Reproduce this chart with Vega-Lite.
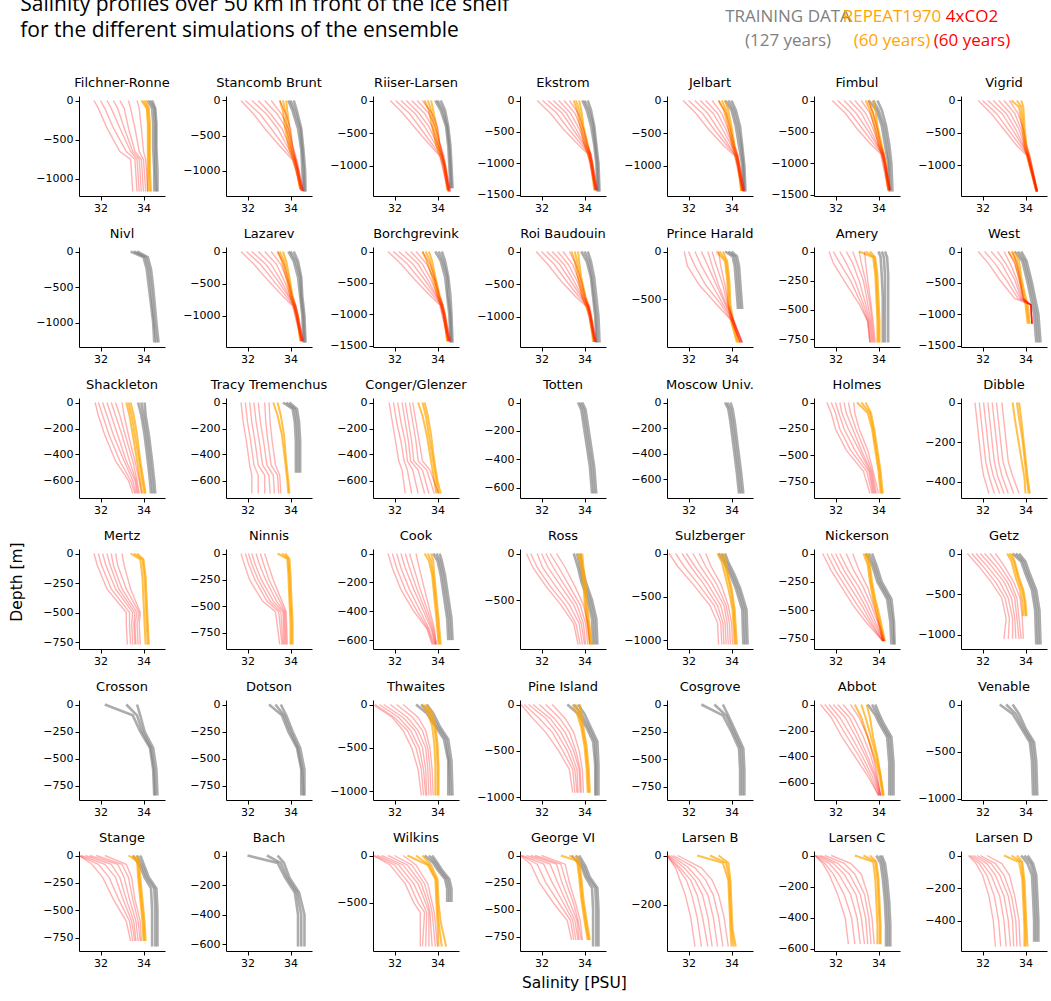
{
"$schema":"https://vega.github.io/schema/vega-lite/v6.json",
"background":"white",
"padding":{"left":10,"top":-6,"right":4,"bottom":4},
"config":{
 "view":{"stroke":null,"continuousWidth":86,"continuousHeight":100},
 "font":"DejaVu Sans",
 "numberFormat":"d",
 "axis":{"labelFont":"DejaVu Sans","labelFontSize":11,"labelColor":"#000","domainColor":"#000","tickColor":"#000","tickSize":4,"labelPadding":2,"grid":false,"domainWidth":1,"tickWidth":1},
 "title":{"font":"DejaVu Sans","fontSize":13,"fontWeight":"normal","color":"#000","anchor":"middle","offset":5},
 "range":{"category":["rgba(128,128,128,0.65)","rgba(255,165,0,0.7)","rgba(255,0,0,0.3)"]},
 "scale":{"minStrokeWidth":1.4,"maxStrokeWidth":2.6},
 "style":{"guide-label":{"lineHeight":24}},
 "line":{"strokeWidth":1.8}
},
"title":{"text":["Salinity profiles over 50 km in front of the ice shelf","for the different simulations of the ensemble"],"anchor":"start","fontSize":21,"font":"Open Sans","fontWeight":"normal","color":"#000","offset":26,"lineHeight":26,"dx":10,"dy":59},
"vconcat":[{
 "title":{"text":"Depth [m]","orient":"left","anchor":"middle","fontSize":15.5,"font":"DejaVu Sans","fontWeight":"normal","color":"#000","offset":10,"dx":-48},
 "vconcat":[{
  "title":{"text":"Salinity [PSU]","orient":"bottom","anchor":"middle","fontSize":15.5,"font":"DejaVu Sans","fontWeight":"normal","color":"#000","offset":8,"dx":33},
  "data":{"values":[
{"p":"Filchner-Ronne","g":"T","d":[0,-100,-300,-600,-900,-1160],"v":[[34.2,34.4,34.45,34.45,34.5,34.5],[34.3,34.5,34.55,34.55,34.55,34.6],[34.4,34.55,34.6,34.6,34.65,34.65]]},
{"p":"Filchner-Ronne","g":"R","d":[0,-100,-300,-600,-900,-1160],"v":[[33.9,34.15,34.2,34.2,34.2,34.2],[34.0,34.2,34.25,34.25,34.25,34.3],[34.1,34.25,34.3,34.3,34.3,34.35]]},
{"p":"Filchner-Ronne","g":"C","d":[0,-100,-350,-650,-750,-1160],"v":[[31.7,31.9,32.3,32.9,33.4,33.5],[32.0,32.2,32.6,33.2,33.6,33.7],[32.3,32.5,32.9,33.4,33.7,33.8],[32.6,32.8,33.1,33.5,33.8,33.9],[32.9,33.1,33.3,33.6,33.9,34.0],[33.3,33.4,33.6,33.8,34.0,34.1],[33.7,33.8,33.9,34.0,34.1,34.2]]},
{"p":"Stancomb Brunt","g":"T","d":[0,-150,-400,-700,-1000,-1300],"v":[[33.9,34.1,34.35,34.5,34.55,34.6],[34.0,34.2,34.45,34.55,34.62,34.65],[34.15,34.3,34.5,34.6,34.68,34.7]]},
{"p":"Stancomb Brunt","g":"R","d":[0,-150,-400,-700,-1000,-1270],"v":[[33.5,33.65,33.75,33.95,34.3,34.45],[33.65,33.75,33.85,34.05,34.3,34.45],[33.8,33.85,33.95,34.1,34.35,34.5]]},
{"p":"Stancomb Brunt","g":"C","d":[0,-200,-400,-650,-850,-1290],"v":[[31.7,32.3,32.8,33.5,34.1,34.5],[31.9,32.6,33.1,33.7,34.15,34.5],[32.2,32.9,33.4,33.85,34.2,34.55],[32.5,33.1,33.6,33.95,34.2,34.55],[32.8,33.4,33.8,34.0,34.25,34.55],[33.1,33.6,33.9,34.1,34.25,34.6],[33.5,33.8,34.0,34.1,34.3,34.6]]},
{"p":"Riiser-Larsen","g":"T","d":[0,-150,-400,-700,-1000,-1350],"v":[[33.9,34.15,34.4,34.5,34.55,34.6],[34.0,34.25,34.45,34.55,34.6,34.65],[34.15,34.35,34.5,34.6,34.65,34.7]]},
{"p":"Riiser-Larsen","g":"R","d":[0,-150,-400,-700,-1000,-1380],"v":[[33.4,33.6,33.75,33.95,34.3,34.45],[33.55,33.7,33.85,34.05,34.35,34.5],[33.7,33.8,33.95,34.1,34.35,34.5]]},
{"p":"Riiser-Larsen","g":"C","d":[0,-200,-400,-650,-850,-1400],"v":[[31.8,32.4,32.9,33.55,34.1,34.5],[32.05,32.7,33.15,33.7,34.15,34.5],[32.3,32.95,33.4,33.85,34.2,34.55],[32.55,33.15,33.6,33.95,34.2,34.55],[32.8,33.4,33.75,34.0,34.25,34.55],[33.05,33.6,33.9,34.1,34.25,34.6],[33.3,33.75,34.0,34.1,34.3,34.6]]},
{"p":"Ekstrom","g":"T","d":[0,-150,-400,-700,-1000,-1450],"v":[[33.9,34.1,34.3,34.45,34.55,34.6],[34.0,34.2,34.4,34.5,34.6,34.65],[34.15,34.3,34.45,34.55,34.65,34.7]]},
{"p":"Ekstrom","g":"R","d":[0,-150,-400,-700,-1000,-1430],"v":[[33.5,33.65,33.8,34.0,34.3,34.45],[33.6,33.75,33.9,34.1,34.35,34.5],[33.75,33.85,33.95,34.15,34.35,34.5]]},
{"p":"Ekstrom","g":"C","d":[0,-200,-450,-700,-850,-1430],"v":[[31.8,32.4,33.0,33.7,34.15,34.5],[32.05,32.7,33.25,33.85,34.2,34.5],[32.3,32.95,33.45,33.95,34.2,34.55],[32.55,33.15,33.6,34.0,34.25,34.55],[32.8,33.35,33.75,34.05,34.25,34.55],[33.05,33.55,33.85,34.1,34.3,34.6],[33.3,33.7,33.95,34.15,34.3,34.6]]},
{"p":"Jelbart","g":"T","d":[0,-150,-400,-700,-1000,-1400],"v":[[33.7,34.0,34.2,34.35,34.5,34.55],[33.85,34.1,34.3,34.45,34.55,34.6],[34.0,34.2,34.4,34.5,34.6,34.65]]},
{"p":"Jelbart","g":"R","d":[0,-150,-400,-700,-1000,-1390],"v":[[33.4,33.65,33.85,34.05,34.3,34.45],[33.55,33.75,33.95,34.1,34.35,34.45],[33.7,33.85,34.0,34.15,34.35,34.5]]},
{"p":"Jelbart","g":"C","d":[0,-200,-450,-700,-850,-1390],"v":[[31.75,32.35,32.95,33.65,34.15,34.5],[32.0,32.65,33.2,33.8,34.2,34.5],[32.3,32.9,33.4,33.9,34.2,34.55],[32.55,33.15,33.6,34.0,34.25,34.55],[32.8,33.35,33.75,34.05,34.25,34.55],[33.1,33.55,33.85,34.1,34.3,34.6],[33.4,33.75,33.95,34.15,34.3,34.6]]},
{"p":"Fimbul","g":"T","d":[0,-150,-400,-700,-1000,-1450],"v":[[33.55,33.9,34.15,34.3,34.45,34.5],[33.75,34.0,34.25,34.4,34.5,34.55],[33.95,34.15,34.35,34.5,34.6,34.65]]},
{"p":"Fimbul","g":"R","d":[0,-150,-400,-700,-1000,-1430],"v":[[33.4,33.6,33.8,34.0,34.3,34.45],[33.55,33.7,33.9,34.1,34.3,34.45],[33.75,33.85,33.95,34.15,34.35,34.5]]},
{"p":"Fimbul","g":"C","d":[0,-200,-450,-700,-850,-1430],"v":[[31.85,32.45,33.0,33.65,34.1,34.45],[32.1,32.7,33.25,33.8,34.15,34.5],[32.4,32.95,33.45,33.9,34.15,34.5],[32.65,33.2,33.6,33.95,34.2,34.5],[32.9,33.4,33.75,34.0,34.2,34.55],[33.2,33.6,33.85,34.05,34.25,34.55],[33.5,33.75,33.95,34.1,34.25,34.55]]},
{"p":"Vigrid","g":"R","d":[0,-100,-400,-700,-900,-1410],"v":[[33.35,33.7,33.85,33.95,34.1,34.5],[33.6,33.8,33.9,34.0,34.15,34.55],[33.8,33.9,33.95,34.05,34.2,34.55]]},
{"p":"Vigrid","g":"C","d":[0,-200,-450,-700,-850,-1410],"v":[[31.8,32.4,33.0,33.6,34.05,34.5],[32.0,32.65,33.2,33.75,34.1,34.5],[32.25,32.9,33.4,33.85,34.1,34.5],[32.5,33.1,33.55,33.9,34.1,34.55],[32.75,33.3,33.7,33.95,34.15,34.55],[33.0,33.5,33.8,34.0,34.15,34.55],[33.25,33.65,33.9,34.05,34.2,34.55]]},
{"p":"Nivl","g":"T","d":[0,-80,-250,-500,-1000,-1280],"v":[[33.4,34.0,34.15,34.25,34.45,34.5],[33.55,34.1,34.25,34.35,34.5,34.6],[33.7,34.2,34.35,34.45,34.6,34.7]]},
{"p":"Lazarev","g":"T","d":[0,-150,-400,-700,-1000,-1420],"v":[[33.9,34.15,34.35,34.45,34.55,34.6],[34.0,34.25,34.45,34.5,34.6,34.65],[34.15,34.35,34.5,34.55,34.65,34.7]]},
{"p":"Lazarev","g":"R","d":[0,-150,-400,-700,-1000,-1400],"v":[[33.4,33.6,33.8,34.0,34.3,34.45],[33.5,33.7,33.9,34.05,34.3,34.5],[33.65,33.8,33.95,34.1,34.35,34.5]]},
{"p":"Lazarev","g":"C","d":[0,-200,-450,-700,-850,-1400],"v":[[31.7,32.3,32.95,33.65,34.1,34.5],[31.95,32.6,33.2,33.8,34.15,34.5],[32.2,32.85,33.4,33.9,34.15,34.55],[32.5,33.1,33.55,33.95,34.2,34.55],[32.8,33.35,33.7,34.0,34.2,34.55],[33.1,33.55,33.85,34.05,34.25,34.6],[33.4,33.7,33.9,34.1,34.25,34.6]]},
{"p":"Borchgrevink","g":"T","d":[0,-150,-400,-700,-1000,-1450],"v":[[33.9,34.15,34.35,34.45,34.55,34.6],[34.05,34.25,34.45,34.5,34.6,34.65],[34.2,34.35,34.5,34.6,34.65,34.7]]},
{"p":"Borchgrevink","g":"R","d":[0,-150,-400,-700,-1000,-1430],"v":[[33.3,33.5,33.75,34.0,34.3,34.45],[33.45,33.65,33.85,34.05,34.3,34.45],[33.6,33.75,33.9,34.1,34.35,34.5]]},
{"p":"Borchgrevink","g":"C","d":[0,-200,-450,-700,-850,-1430],"v":[[31.7,32.3,32.95,33.65,34.1,34.5],[31.95,32.6,33.2,33.8,34.15,34.5],[32.2,32.85,33.4,33.9,34.15,34.55],[32.5,33.1,33.55,33.95,34.2,34.55],[32.75,33.3,33.7,34.0,34.2,34.55],[33.0,33.5,33.85,34.05,34.25,34.6],[33.3,33.65,33.9,34.1,34.25,34.6]]},
{"p":"Roi Baudouin","g":"T","d":[0,-150,-400,-700,-1000,-1400],"v":[[33.85,34.1,34.3,34.4,34.5,34.55],[34.0,34.2,34.35,34.45,34.55,34.6],[34.15,34.3,34.45,34.55,34.65,34.7]]},
{"p":"Roi Baudouin","g":"R","d":[0,-150,-400,-700,-1000,-1390],"v":[[33.4,33.55,33.7,33.9,34.25,34.4],[33.55,33.65,33.8,34.0,34.3,34.45],[33.7,33.75,33.85,34.05,34.3,34.45]]},
{"p":"Roi Baudouin","g":"C","d":[0,-200,-450,-700,-850,-1390],"v":[[31.75,32.3,32.9,33.6,34.1,34.45],[32.0,32.6,33.15,33.75,34.15,34.45],[32.25,32.85,33.35,33.85,34.15,34.5],[32.5,33.05,33.5,33.9,34.2,34.5],[32.75,33.25,33.65,33.95,34.2,34.5],[33.0,33.45,33.75,34.0,34.2,34.55],[33.3,33.6,33.85,34.05,34.25,34.55]]},
{"p":"Prince Harald","g":"T","d":[0,-50,-150,-300,-450,-600],"v":[[33.7,34.05,34.15,34.2,34.25,34.3],[33.85,34.15,34.25,34.3,34.35,34.4],[34.0,34.25,34.35,34.4,34.45,34.5]]},
{"p":"Prince Harald","g":"R","d":[0,-100,-300,-550,-750,-950],"v":[[33.3,33.7,33.8,33.85,34.0,34.25],[33.45,33.75,33.85,33.9,34.05,34.3],[33.6,33.8,33.9,33.95,34.1,34.35]]},
{"p":"Prince Harald","g":"C","d":[0,-150,-350,-550,-720,-950],"v":[[31.8,31.95,32.5,33.3,34.0,34.4],[32.0,32.3,32.8,33.5,34.0,34.4],[32.3,32.6,33.1,33.6,34.05,34.45],[32.6,32.9,33.3,33.7,34.05,34.45],[32.9,33.1,33.4,33.75,34.1,34.5],[33.1,33.3,33.6,33.8,34.1,34.5],[33.4,33.5,33.7,33.85,34.1,34.5]]},
{"p":"Amery","g":"T","d":[0,-50,-200,-400,-600,-780],"v":[[34.0,34.1,34.15,34.2,34.2,34.2],[34.15,34.25,34.3,34.3,34.3,34.3],[34.3,34.4,34.45,34.45,34.45,34.45]]},
{"p":"Amery","g":"R","d":[0,-50,-200,-400,-600,-780],"v":[[33.1,33.75,33.85,33.9,33.95,33.95],[33.4,33.8,33.9,33.95,34.0,34.0],[33.6,33.85,33.95,34.0,34.05,34.05]]},
{"p":"Amery","g":"C","d":[0,-100,-250,-450,-600,-780],"v":[[31.7,31.9,32.4,33.1,33.5,33.6],[31.9,32.2,32.7,33.2,33.5,33.6],[32.2,32.5,32.9,33.3,33.55,33.65],[32.5,32.8,33.1,33.4,33.6,33.7],[32.8,33.0,33.3,33.5,33.65,33.75],[33.1,33.2,33.4,33.6,33.7,33.8],[33.35,33.4,33.5,33.65,33.75,33.85]]},
{"p":"West","g":"T","d":[0,-150,-500,-750,-1000,-1450],"v":[[33.5,33.85,34.1,34.25,34.4,34.5],[33.65,33.95,34.2,34.35,34.5,34.6],[33.8,34.05,34.3,34.45,34.6,34.7]]},
{"p":"West","g":"R","d":[0,-150,-400,-650,-850,-1150],"v":[[33.2,33.5,33.7,33.85,34.0,34.1],[33.35,33.6,33.75,33.9,34.05,34.15],[33.5,33.7,33.8,33.95,34.1,34.2]]},
{"p":"West","g":"C","d":[0,-200,-450,-750,-850,-1150],"v":[[31.8,32.3,32.8,33.5,34.25,34.3],[32.1,32.6,33.1,33.65,34.25,34.3],[32.4,32.9,33.3,33.75,34.25,34.3],[32.7,33.1,33.5,33.8,34.25,34.3],[33.0,33.3,33.6,33.85,34.25,34.3],[33.2,33.5,33.7,33.9,34.25,34.3],[33.4,33.6,33.75,33.9,34.25,34.3]]},
{"p":"Shackleton","g":"T","d":[0,-100,-250,-450,-600,-700],"v":[[33.75,33.9,34.05,34.2,34.3,34.35],[33.9,34.0,34.15,34.3,34.4,34.45],[34.05,34.1,34.25,34.4,34.5,34.55]]},
{"p":"Shackleton","g":"R","d":[0,-100,-250,-450,-600,-700],"v":[[33.2,33.35,33.5,33.7,33.85,33.95],[33.3,33.45,33.6,33.8,33.95,34.05],[33.4,33.55,33.7,33.85,34.0,34.1]]},
{"p":"Shackleton","g":"C","d":[0,-100,-250,-450,-600,-700],"v":[[31.75,31.9,32.2,32.7,33.3,33.5],[31.9,32.1,32.4,32.9,33.4,33.6],[32.1,32.3,32.6,33.1,33.5,33.65],[32.3,32.5,32.8,33.2,33.6,33.7],[32.5,32.7,33.0,33.35,33.65,33.75],[32.7,32.9,33.15,33.5,33.7,33.8],[33.0,33.1,33.3,33.6,33.8,33.9]]},
{"p":"Tracy Tremenchus","g":"T","d":[0,-50,-150,-300,-450,-540],"v":[[33.65,34.1,34.2,34.25,34.25,34.25],[33.8,34.2,34.3,34.35,34.35,34.35],[33.95,34.3,34.4,34.45,34.45,34.45]]},
{"p":"Tracy Tremenchus","g":"R","d":[0,-100,-250,-450,-600,-700],"v":[[33.2,33.4,33.6,33.75,33.85,33.9],[33.4,33.55,33.7,33.8,33.9,33.95]]},
{"p":"Tracy Tremenchus","g":"C","d":[0,-150,-300,-480,-560,-700],"v":[[31.7,31.8,31.95,32.1,32.2,32.2],[31.9,32.0,32.15,32.3,32.5,32.5],[32.1,32.2,32.35,32.5,32.8,32.8],[32.3,32.4,32.55,32.7,33.0,33.05],[32.5,32.6,32.75,32.9,33.2,33.25],[32.8,32.85,32.95,33.1,33.4,33.45],[33.0,33.05,33.15,33.3,33.5,33.55]]},
{"p":"Conger/Glenzer","g":"R","d":[0,-100,-250,-450,-600,-700],"v":[[33.1,33.3,33.5,33.7,33.85,33.95],[33.3,33.45,33.6,33.8,33.95,34.05],[33.4,33.55,33.7,33.85,34.0,34.15]]},
{"p":"Conger/Glenzer","g":"C","d":[0,-150,-300,-450,-520,-700],"v":[[31.75,31.9,32.05,32.2,32.35,32.5],[31.95,32.1,32.3,32.45,32.6,32.8],[32.15,32.3,32.5,32.6,32.85,33.1],[32.35,32.5,32.65,32.75,33.1,33.4],[32.5,32.65,32.8,32.9,33.3,33.6],[32.7,32.85,33.0,33.1,33.5,33.85],[32.85,33.0,33.15,33.3,33.65,34.05]]},
{"p":"Totten","g":"T","d":[0,-50,-150,-300,-450,-640],"v":[[33.7,33.85,33.95,34.1,34.25,34.35],[33.8,33.95,34.05,34.2,34.35,34.45],[33.9,34.05,34.15,34.3,34.45,34.55]]},
{"p":"Moscow Univ.","g":"T","d":[0,-50,-150,-350,-550,-710],"v":[[33.7,33.85,33.95,34.1,34.25,34.35],[33.8,33.95,34.05,34.2,34.35,34.45],[33.95,34.05,34.15,34.3,34.45,34.55]]},
{"p":"Holmes","g":"R","d":[0,-100,-250,-450,-650,-860],"v":[[33.0,33.5,33.7,33.85,34.0,34.1],[33.2,33.6,33.75,33.9,34.05,34.15],[33.4,33.65,33.8,33.95,34.1,34.2]]},
{"p":"Holmes","g":"C","d":[0,-100,-250,-450,-650,-860],"v":[[31.6,31.8,32.0,32.5,33.3,33.6],[31.8,32.0,32.2,32.7,33.45,33.7],[32.0,32.15,32.4,32.9,33.55,33.75],[32.2,32.3,32.6,33.1,33.6,33.8],[32.4,32.5,32.8,33.2,33.65,33.85],[32.6,32.7,32.95,33.35,33.7,33.9],[32.85,32.9,33.1,33.5,33.75,34.0]]},
{"p":"Dibble","g":"R","d":[0,-80,-180,-280,-380,-460],"v":[[33.4,33.5,33.65,33.8,33.95,34.0],[33.6,33.7,33.85,33.95,34.05,34.15],[33.7,33.8,33.9,34.0,34.1,34.2]]},
{"p":"Dibble","g":"C","d":[0,-100,-200,-300,-370,-460],"v":[[31.65,31.75,31.85,31.95,32.05,32.3],[31.85,31.95,32.05,32.15,32.3,32.55],[32.05,32.15,32.25,32.35,32.5,32.8],[32.25,32.35,32.45,32.55,32.7,33.0],[32.45,32.55,32.65,32.75,32.9,33.2],[32.65,32.75,32.85,32.95,33.15,33.45],[32.9,33.0,33.1,33.2,33.4,33.7]]},
{"p":"Mertz","g":"R","d":[0,-50,-200,-400,-600,-770],"v":[[33.4,33.85,33.95,34.0,34.05,34.1],[33.55,33.95,34.05,34.1,34.15,34.2],[33.7,34.0,34.1,34.15,34.2,34.25]]},
{"p":"Mertz","g":"C","d":[0,-100,-300,-500,-600,-770],"v":[[31.7,31.85,32.3,33.2,33.2,33.25],[31.9,32.05,32.5,33.35,33.35,33.4],[32.1,32.25,32.7,33.5,33.45,33.5],[32.3,32.45,32.85,33.6,33.55,33.6],[32.5,32.6,33.0,33.7,33.6,33.65],[32.7,32.8,33.2,33.8,33.7,33.75],[33.0,33.1,33.4,33.85,33.8,33.85]]},
{"p":"Ninnis","g":"R","d":[0,-50,-200,-450,-650,-860],"v":[[33.4,33.85,33.9,33.95,34.0,34.0],[33.6,33.9,33.95,34.0,34.05,34.05],[33.75,33.95,34.0,34.05,34.1,34.1]]},
{"p":"Ninnis","g":"C","d":[0,-100,-250,-450,-550,-860],"v":[[31.7,31.85,32.1,32.7,33.3,33.5],[31.9,32.05,32.35,32.9,33.45,33.6],[32.05,32.2,32.5,33.05,33.55,33.65],[32.2,32.35,32.65,33.2,33.65,33.7],[32.4,32.55,32.85,33.35,33.7,33.75],[32.6,32.75,33.0,33.5,33.75,33.8],[32.8,32.95,33.2,33.6,33.8,33.85]]},
{"p":"Cook","g":"T","d":[0,-50,-150,-300,-450,-600],"v":[[33.8,34.0,34.15,34.3,34.45,34.5],[33.95,34.1,34.25,34.4,34.55,34.6],[34.1,34.2,34.35,34.5,34.65,34.7]]},
{"p":"Cook","g":"R","d":[0,-50,-150,-300,-450,-630],"v":[[33.4,33.6,33.75,33.85,33.95,34.05],[33.55,33.7,33.8,33.9,34.0,34.1],[33.7,33.8,33.85,33.95,34.05,34.15]]},
{"p":"Cook","g":"C","d":[0,-100,-250,-400,-520,-630],"v":[[31.7,31.9,32.3,32.9,33.5,33.75],[31.9,32.1,32.5,33.05,33.55,33.8],[32.1,32.3,32.7,33.2,33.6,33.85],[32.3,32.5,32.9,33.35,33.7,33.9],[32.5,32.7,33.05,33.45,33.75,33.9],[32.7,32.9,33.2,33.55,33.8,33.95],[33.0,33.15,33.4,33.65,33.85,33.95]]},
{"p":"Ross","g":"T","d":[0,-150,-300,-500,-700,-975],"v":[[33.5,33.7,33.85,34.15,34.35,34.4],[33.65,33.8,33.95,34.25,34.45,34.5],[33.8,33.9,34.05,34.35,34.55,34.6]]},
{"p":"Ross","g":"R","d":[0,-150,-300,-500,-700,-975],"v":[[33.7,33.85,33.95,34.0,34.1,34.25],[33.8,33.9,34.0,34.05,34.15,34.3],[33.9,33.95,34.05,34.1,34.2,34.35]]},
{"p":"Ross","g":"C","d":[0,-150,-350,-550,-750,-975],"v":[[31.3,31.6,32.2,32.9,33.5,33.7],[31.5,31.8,32.4,33.1,33.6,33.8],[31.8,32.05,32.65,33.3,33.75,33.9],[32.0,32.3,32.9,33.5,33.85,34.0],[32.2,32.55,33.1,33.65,33.95,34.05],[32.4,32.8,33.3,33.8,34.05,34.15],[32.7,33.1,33.55,33.95,34.15,34.25]]},
{"p":"Sulzberger","g":"T","d":[0,-100,-250,-400,-650,-1050],"v":[[33.4,33.65,33.95,34.2,34.5,34.55],[33.55,33.75,34.05,34.3,34.6,34.65],[33.7,33.85,34.15,34.4,34.7,34.75]]},
{"p":"Sulzberger","g":"R","d":[0,-100,-250,-400,-650,-1050],"v":[[33.35,33.55,33.7,33.85,34.05,34.15],[33.5,33.65,33.8,33.95,34.1,34.2],[33.65,33.75,33.85,34.0,34.15,34.25]]},
{"p":"Sulzberger","g":"C","d":[0,-150,-350,-600,-800,-1050],"v":[[31.1,31.5,32.2,33.0,33.35,33.4],[31.4,31.8,32.45,33.2,33.5,33.55],[31.7,32.1,32.7,33.35,33.6,33.65],[31.9,32.3,32.9,33.5,33.7,33.75],[32.2,32.55,33.1,33.65,33.8,33.85],[32.5,32.8,33.3,33.75,33.9,33.95],[32.8,33.05,33.5,33.85,34.0,34.05]]},
{"p":"Nickerson","g":"T","d":[0,-100,-250,-400,-600,-800],"v":[[33.4,33.7,33.95,34.4,34.55,34.6],[33.55,33.8,34.05,34.5,34.65,34.7],[33.7,33.9,34.15,34.6,34.72,34.75]]},
{"p":"Nickerson","g":"R","d":[0,-100,-250,-400,-550,-770],"v":[[33.3,33.5,33.6,33.75,33.95,34.2],[33.4,33.55,33.65,33.8,34.0,34.25],[33.5,33.6,33.7,33.85,34.05,34.3]]},
{"p":"Nickerson","g":"C","d":[0,-150,-300,-450,-600,-770],"v":[[31.4,31.8,32.3,32.8,33.4,34.2],[31.6,32.0,32.5,33.0,33.55,34.2],[31.8,32.2,32.7,33.2,33.65,34.2],[32.0,32.4,32.9,33.35,33.75,34.25],[32.2,32.6,33.1,33.5,33.85,34.25],[32.5,32.85,33.3,33.65,33.95,34.25],[32.8,33.1,33.5,33.75,34.0,34.3]]},
{"p":"Getz","g":"T","d":[0,-100,-250,-450,-700,-1120],"v":[[33.4,33.8,34.0,34.3,34.45,34.5],[33.55,33.9,34.1,34.4,34.55,34.6],[33.7,34.0,34.2,34.5,34.65,34.7]]},
{"p":"Getz","g":"R","d":[0,-100,-300,-450,-600,-770],"v":[[33.15,33.35,33.55,33.75,33.85,33.9],[33.25,33.45,33.65,33.85,33.95,34.0],[33.35,33.5,33.7,33.9,34.0,34.05]]},
{"p":"Getz","g":"C","d":[0,-150,-350,-550,-800,-1050],"v":[[31.3,31.8,32.4,32.9,33.1,33.0],[31.5,32.0,32.6,33.05,33.25,33.2],[31.7,32.2,32.8,33.2,33.4,33.4],[31.9,32.4,33.0,33.35,33.5,33.55],[32.1,32.6,33.15,33.5,33.6,33.7],[32.35,32.8,33.3,33.6,33.7,33.8],[32.6,33.0,33.45,33.75,33.85,33.9]]},
{"p":"Crosson","g":"T","d":[0,-100,-250,-400,-600,-840],"v":[[32.2,33.5,33.85,34.3,34.45,34.5],[33.2,33.7,33.95,34.35,34.5,34.55],[33.7,33.85,34.05,34.45,34.6,34.65]]},
{"p":"Dotson","g":"T","d":[0,-100,-250,-400,-600,-840],"v":[[33.0,33.6,33.9,34.3,34.5,34.5],[33.3,33.7,34.0,34.35,34.55,34.6],[33.55,33.8,34.1,34.45,34.65,34.65]]},
{"p":"Thwaites","g":"T","d":[0,-100,-250,-400,-650,-1050],"v":[[33.0,33.5,33.9,34.3,34.5,34.5],[33.25,33.65,34.0,34.4,34.55,34.6],[33.5,33.8,34.1,34.5,34.65,34.7]]},
{"p":"Thwaites","g":"R","d":[0,-100,-250,-450,-700,-1050],"v":[[33.25,33.55,33.75,33.85,33.9,33.9],[33.4,33.65,33.85,33.95,34.0,34.0],[33.5,33.75,33.9,34.0,34.05,34.05]]},
{"p":"Thwaites","g":"C","d":[0,-150,-300,-500,-750,-1050],"v":[[31.0,31.9,32.4,32.8,33.1,33.25],[31.1,32.0,32.6,33.0,33.25,33.35],[31.3,32.2,32.75,33.15,33.35,33.45],[31.5,32.4,32.95,33.3,33.45,33.5],[31.8,32.6,33.1,33.45,33.55,33.6],[32.1,32.85,33.3,33.55,33.65,33.7],[32.4,33.1,33.45,33.65,33.75,33.8]]},
{"p":"Pine Island","g":"T","d":[0,-100,-250,-400,-650,-980],"v":[[33.2,33.7,34.1,34.4,34.5,34.5],[33.5,33.85,34.2,34.5,34.55,34.55],[33.7,34.0,34.3,34.6,34.65,34.65]]},
{"p":"Pine Island","g":"R","d":[0,-100,-250,-450,-700,-950],"v":[[33.45,33.65,33.85,34.0,34.1,34.15],[33.6,33.75,33.9,34.05,34.15,34.2],[33.8,33.85,33.95,34.1,34.2,34.25]]},
{"p":"Pine Island","g":"C","d":[0,-150,-300,-500,-700,-950],"v":[[31.05,31.6,32.2,32.8,33.3,33.45],[31.2,31.9,32.5,33.0,33.45,33.55],[31.4,32.2,32.7,33.2,33.55,33.65],[31.6,32.4,32.9,33.35,33.65,33.7],[31.9,32.6,33.1,33.5,33.75,33.8],[32.2,32.85,33.3,33.6,33.8,33.85],[32.5,33.1,33.5,33.75,33.9,33.95]]},
{"p":"Cosgrove","g":"T","d":[0,-100,-250,-400,-600,-830],"v":[[32.6,33.6,34.0,34.35,34.4,34.4],[33.2,33.75,34.1,34.45,34.5,34.5],[33.6,33.85,34.2,34.55,34.6,34.6]]},
{"p":"Abbot","g":"T","d":[0,-80,-150,-250,-450,-700],"v":[[33.5,33.85,34.05,34.4,34.5,34.5],[33.7,33.95,34.15,34.5,34.6,34.6],[33.85,34.05,34.25,34.6,34.7,34.7]]},
{"p":"Abbot","g":"R","d":[0,-100,-250,-400,-550,-700],"v":[[32.9,33.2,33.5,33.8,34.05,34.2],[33.2,33.4,33.65,33.9,34.1,34.2],[33.45,33.6,33.75,33.95,34.1,34.25]]},
{"p":"Abbot","g":"C","d":[0,-100,-250,-400,-550,-700],"v":[[31.3,31.8,32.3,32.9,33.5,34.0],[31.5,32.0,32.55,33.1,33.6,34.0],[31.7,32.2,32.75,33.25,33.7,34.05],[31.9,32.45,32.95,33.4,33.8,34.05],[32.1,32.65,33.1,33.5,33.85,34.1],[32.35,32.85,33.3,33.65,33.9,34.1],[32.7,33.1,33.5,33.75,33.95,34.1]]},
{"p":"Venable","g":"T","d":[0,-100,-250,-400,-600,-965],"v":[[32.8,33.4,33.8,34.2,34.3,34.35],[33.1,33.55,33.9,34.3,34.4,34.45],[33.4,33.7,34.0,34.4,34.5,34.55]]},
{"p":"Stange","g":"T","d":[0,-100,-200,-300,-500,-830],"v":[[33.5,33.85,34.05,34.35,34.4,34.4],[33.7,33.95,34.15,34.5,34.55,34.55],[33.85,34.05,34.25,34.6,34.65,34.65]]},
{"p":"Stange","g":"R","d":[0,-50,-200,-400,-600,-780],"v":[[33.3,33.7,33.75,33.85,33.95,34.0],[33.5,33.75,33.8,33.9,34.0,34.05],[33.65,33.8,33.85,33.95,34.05,34.1]]},
{"p":"Stange","g":"C","d":[0,-80,-200,-400,-600,-780],"v":[[31.0,31.6,32.1,32.6,33.2,33.4],[31.0,31.9,32.4,32.85,33.35,33.5],[31.1,32.2,32.7,33.05,33.45,33.6],[31.3,32.5,32.9,33.2,33.55,33.65],[31.5,32.8,33.1,33.35,33.65,33.75],[31.8,33.0,33.3,33.5,33.75,33.85],[32.2,33.2,33.45,33.6,33.85,33.9]]},
{"p":"Bach","g":"T","d":[0,-50,-150,-250,-400,-615],"v":[[32.0,33.4,33.75,34.2,34.35,34.35],[32.9,33.55,33.85,34.3,34.5,34.5],[33.4,33.7,33.95,34.4,34.65,34.65]]},
{"p":"Wilkins","g":"T","d":[0,-80,-150,-250,-350,-490],"v":[[33.4,33.8,34.0,34.35,34.45,34.45],[33.6,33.9,34.1,34.45,34.55,34.55],[33.75,34.0,34.2,34.55,34.65,34.65]]},
{"p":"Wilkins","g":"R","d":[0,-100,-250,-500,-700,-960],"v":[[32.6,33.55,33.9,33.95,34.0,34.05],[33.0,33.6,33.95,34.0,34.05,34.2],[33.3,33.7,34.0,34.05,34.15,34.4]]},
{"p":"Wilkins","g":"C","d":[0,-100,-300,-500,-600,-960],"v":[[31.0,31.8,32.5,32.9,33.2,33.2],[31.05,32.0,32.7,33.1,33.4,33.3],[31.2,32.2,32.9,33.3,33.5,33.45],[31.4,32.4,33.1,33.45,33.6,33.6],[31.7,32.6,33.25,33.55,33.65,33.75],[32.0,32.8,33.4,33.65,33.75,33.9],[32.4,33.0,33.55,33.75,33.85,34.0]]},
{"p":"George VI","g":"T","d":[0,-100,-200,-300,-500,-840],"v":[[33.4,33.85,34.05,34.35,34.4,34.4],[33.6,33.95,34.15,34.5,34.55,34.55],[33.75,34.05,34.25,34.6,34.65,34.65]]},
{"p":"George VI","g":"R","d":[0,-50,-200,-400,-600,-780],"v":[[32.9,33.65,33.75,33.85,34.0,34.15],[33.3,33.7,33.8,33.9,34.05,34.2],[33.6,33.75,33.85,33.95,34.1,34.25]]},
{"p":"George VI","g":"C","d":[0,-80,-250,-450,-600,-780],"v":[[31.0,31.5,31.9,32.6,33.2,33.4],[31.05,31.8,32.2,32.85,33.35,33.5],[31.1,32.1,32.5,33.05,33.45,33.6],[31.3,32.4,32.75,33.2,33.55,33.7],[31.5,32.7,32.95,33.35,33.65,33.75],[31.7,32.9,33.15,33.5,33.7,33.85],[32.0,33.1,33.3,33.6,33.8,33.9]]},
{"p":"Larsen B","g":"R","d":[0,-30,-100,-200,-300,-370],"v":[[32.4,33.6,33.85,33.9,33.95,34.0],[33.0,33.75,33.9,33.95,34.0,34.1],[33.4,33.85,33.95,34.0,34.05,34.2]]},
{"p":"Larsen B","g":"C","d":[0,-50,-100,-160,-250,-370],"v":[[31.0,31.4,31.6,31.85,32.1,32.3],[31.0,31.5,31.9,32.15,32.4,32.6],[31.05,31.6,32.1,32.4,32.65,32.9],[31.1,31.8,32.3,32.65,32.9,33.1],[31.2,32.0,32.5,32.9,33.15,33.35],[31.3,32.3,32.8,33.15,33.4,33.6],[31.5,32.6,33.1,33.4,33.65,33.85]]},
{"p":"Larsen C","g":"T","d":[0,-50,-150,-300,-450,-585],"v":[[33.9,34.1,34.2,34.3,34.35,34.35],[34.05,34.2,34.3,34.4,34.45,34.45],[34.15,34.3,34.4,34.5,34.55,34.55]]},
{"p":"Larsen C","g":"R","d":[0,-40,-150,-300,-450,-570],"v":[[32.9,33.75,33.85,33.9,33.95,33.95],[33.3,33.85,33.95,34.0,34.05,34.05],[33.6,33.9,34.0,34.05,34.1,34.1]]},
{"p":"Larsen C","g":"C","d":[0,-50,-120,-250,-400,-570],"v":[[31.05,31.4,31.7,32.1,32.45,32.6],[31.05,31.5,31.9,32.4,32.75,32.9],[31.1,31.7,32.15,32.7,33.0,33.15],[31.2,31.9,32.4,32.95,33.2,33.35],[31.3,32.1,32.65,33.15,33.4,33.5],[31.5,32.4,32.9,33.35,33.55,33.65],[31.8,32.7,33.2,33.5,33.7,33.8]]},
{"p":"Larsen D","g":"T","d":[0,-50,-120,-250,-400,-530],"v":[[33.8,34.1,34.3,34.35,34.4,34.4],[33.95,34.25,34.4,34.45,34.5,34.5],[34.1,34.35,34.5,34.55,34.6,34.6]]},
{"p":"Larsen D","g":"R","d":[0,-40,-150,-300,-450,-560],"v":[[33.0,33.7,33.85,33.9,33.95,33.95],[33.35,33.8,33.9,33.95,34.0,34.0],[33.6,33.85,33.95,34.0,34.05,34.1]]},
{"p":"Larsen D","g":"C","d":[0,-50,-120,-250,-400,-560],"v":[[31.35,31.7,32.0,32.3,32.5,32.6],[31.4,31.85,32.2,32.55,32.75,32.85],[31.5,32.0,32.4,32.8,33.0,33.1],[31.6,32.2,32.6,33.0,33.2,33.3],[31.75,32.4,32.8,33.2,33.4,33.45],[31.9,32.6,33.0,33.35,33.55,33.6],[32.2,32.9,33.25,33.5,33.7,33.75]]}
  ]},
  "transform":[{"flatten":["v"]},{"window":[{"op":"row_number","as":"id"}]},{"flatten":["d","v"]}],
  "columns":7,
  "spacing":{"row":51,"column":61},
  "bounds":"flush",
  "concat":[
{"title":"Filchner-Ronne","transform":[{"filter":"datum.p=='Filchner-Ronne'"}],"mark":"line","encoding":{"x":{"field":"v","type":"quantitative","title":null,"scale":{"domain":[31,35],"nice":false},"axis":{"values":[32,34]}},"y":{"field":"d","type":"quantitative","title":null,"scale":{"nice":false,"zero":false,"padding":4.5},"axis":{"values":[0,-500,-1000]}},"color":{"field":"g","sort":"descending","legend":{"orient":"none","legendX":692,"legendY":-88,"direction":"horizontal","title":null,"symbolOpacity":0,"symbolSize":0,"symbolStrokeWidth":0,"labelFontSize":17,"labelFont":"Open Sans","labelLimit":0,"labelOffset":0,"labelAlign":"center","columnPadding":-9,"labelExpr":"datum.value=='T'?['TRAINING DATA','(127 years)']:datum.value=='R'?['REPEAT1970','(60 years)']:['4xCO2','(60 years)']","labelColor":{"expr":"datum.value=='T'?'#808080':datum.value=='R'?'#ffa500':'#ff0000'"}}},"size":{"field":"g","type":"ordinal","legend":null},"detail":{"field":"id"},"order":{"field":"d","sort":"descending"}}},
{"title":"Stancomb Brunt","transform":[{"filter":"datum.p=='Stancomb Brunt'"}],"mark":"line","encoding":{"x":{"field":"v","type":"quantitative","title":null,"scale":{"domain":[31,35],"nice":false},"axis":{"values":[32,34]}},"y":{"field":"d","type":"quantitative","title":null,"scale":{"nice":false,"zero":false,"padding":4.5},"axis":{"values":[0,-500,-1000]}},"color":{"field":"g","sort":"descending"},"size":{"field":"g","type":"ordinal","legend":null},"detail":{"field":"id"},"order":{"field":"d","sort":"descending"}}},
{"title":"Riiser-Larsen","transform":[{"filter":"datum.p=='Riiser-Larsen'"}],"mark":"line","encoding":{"x":{"field":"v","type":"quantitative","title":null,"scale":{"domain":[31,35],"nice":false},"axis":{"values":[32,34]}},"y":{"field":"d","type":"quantitative","title":null,"scale":{"nice":false,"zero":false,"padding":4.5},"axis":{"values":[0,-500,-1000]}},"color":{"field":"g","sort":"descending"},"size":{"field":"g","type":"ordinal","legend":null},"detail":{"field":"id"},"order":{"field":"d","sort":"descending"}}},
{"title":"Ekstrom","transform":[{"filter":"datum.p=='Ekstrom'"}],"mark":"line","encoding":{"x":{"field":"v","type":"quantitative","title":null,"scale":{"domain":[31,35],"nice":false},"axis":{"values":[32,34]}},"y":{"field":"d","type":"quantitative","title":null,"scale":{"nice":false,"zero":false,"padding":4.5},"axis":{"values":[0,-500,-1000,-1500]}},"color":{"field":"g","sort":"descending"},"size":{"field":"g","type":"ordinal","legend":null},"detail":{"field":"id"},"order":{"field":"d","sort":"descending"}}},
{"title":"Jelbart","transform":[{"filter":"datum.p=='Jelbart'"}],"mark":"line","encoding":{"x":{"field":"v","type":"quantitative","title":null,"scale":{"domain":[31,35],"nice":false},"axis":{"values":[32,34]}},"y":{"field":"d","type":"quantitative","title":null,"scale":{"nice":false,"zero":false,"padding":4.5},"axis":{"values":[0,-500,-1000]}},"color":{"field":"g","sort":"descending"},"size":{"field":"g","type":"ordinal","legend":null},"detail":{"field":"id"},"order":{"field":"d","sort":"descending"}}},
{"title":"Fimbul","transform":[{"filter":"datum.p=='Fimbul'"}],"mark":"line","encoding":{"x":{"field":"v","type":"quantitative","title":null,"scale":{"domain":[31,35],"nice":false},"axis":{"values":[32,34]}},"y":{"field":"d","type":"quantitative","title":null,"scale":{"nice":false,"zero":false,"padding":4.5},"axis":{"values":[0,-500,-1000,-1500]}},"color":{"field":"g","sort":"descending"},"size":{"field":"g","type":"ordinal","legend":null},"detail":{"field":"id"},"order":{"field":"d","sort":"descending"}}},
{"title":"Vigrid","transform":[{"filter":"datum.p=='Vigrid'"}],"mark":"line","encoding":{"x":{"field":"v","type":"quantitative","title":null,"scale":{"domain":[31,35],"nice":false},"axis":{"values":[32,34]}},"y":{"field":"d","type":"quantitative","title":null,"scale":{"nice":false,"zero":false,"padding":4.5},"axis":{"values":[0,-500,-1000]}},"color":{"field":"g","sort":"descending"},"size":{"field":"g","type":"ordinal","legend":null},"detail":{"field":"id"},"order":{"field":"d","sort":"descending"}}},
{"title":"Nivl","transform":[{"filter":"datum.p=='Nivl'"}],"mark":"line","encoding":{"x":{"field":"v","type":"quantitative","title":null,"scale":{"domain":[31,35],"nice":false},"axis":{"values":[32,34]}},"y":{"field":"d","type":"quantitative","title":null,"scale":{"nice":false,"zero":false,"padding":4.5},"axis":{"values":[0,-500,-1000]}},"color":{"field":"g","sort":"descending"},"size":{"field":"g","type":"ordinal","legend":null},"detail":{"field":"id"},"order":{"field":"d","sort":"descending"}}},
{"title":"Lazarev","transform":[{"filter":"datum.p=='Lazarev'"}],"mark":"line","encoding":{"x":{"field":"v","type":"quantitative","title":null,"scale":{"domain":[31,35],"nice":false},"axis":{"values":[32,34]}},"y":{"field":"d","type":"quantitative","title":null,"scale":{"nice":false,"zero":false,"padding":4.5},"axis":{"values":[0,-500,-1000]}},"color":{"field":"g","sort":"descending"},"size":{"field":"g","type":"ordinal","legend":null},"detail":{"field":"id"},"order":{"field":"d","sort":"descending"}}},
{"title":"Borchgrevink","transform":[{"filter":"datum.p=='Borchgrevink'"}],"mark":"line","encoding":{"x":{"field":"v","type":"quantitative","title":null,"scale":{"domain":[31,35],"nice":false},"axis":{"values":[32,34]}},"y":{"field":"d","type":"quantitative","title":null,"scale":{"nice":false,"zero":false,"padding":4.5},"axis":{"values":[0,-500,-1000,-1500]}},"color":{"field":"g","sort":"descending"},"size":{"field":"g","type":"ordinal","legend":null},"detail":{"field":"id"},"order":{"field":"d","sort":"descending"}}},
{"title":"Roi Baudouin","transform":[{"filter":"datum.p=='Roi Baudouin'"}],"mark":"line","encoding":{"x":{"field":"v","type":"quantitative","title":null,"scale":{"domain":[31,35],"nice":false},"axis":{"values":[32,34]}},"y":{"field":"d","type":"quantitative","title":null,"scale":{"nice":false,"zero":false,"padding":4.5},"axis":{"values":[0,-500,-1000]}},"color":{"field":"g","sort":"descending"},"size":{"field":"g","type":"ordinal","legend":null},"detail":{"field":"id"},"order":{"field":"d","sort":"descending"}}},
{"title":"Prince Harald","transform":[{"filter":"datum.p=='Prince Harald'"}],"mark":"line","encoding":{"x":{"field":"v","type":"quantitative","title":null,"scale":{"domain":[31,35],"nice":false},"axis":{"values":[32,34]}},"y":{"field":"d","type":"quantitative","title":null,"scale":{"nice":false,"zero":false,"padding":4.5},"axis":{"values":[0,-500]}},"color":{"field":"g","sort":"descending"},"size":{"field":"g","type":"ordinal","legend":null},"detail":{"field":"id"},"order":{"field":"d","sort":"descending"}}},
{"title":"Amery","transform":[{"filter":"datum.p=='Amery'"}],"mark":"line","encoding":{"x":{"field":"v","type":"quantitative","title":null,"scale":{"domain":[31,35],"nice":false},"axis":{"values":[32,34]}},"y":{"field":"d","type":"quantitative","title":null,"scale":{"nice":false,"zero":false,"padding":4.5},"axis":{"values":[0,-250,-500,-750]}},"color":{"field":"g","sort":"descending"},"size":{"field":"g","type":"ordinal","legend":null},"detail":{"field":"id"},"order":{"field":"d","sort":"descending"}}},
{"title":"West","transform":[{"filter":"datum.p=='West'"}],"mark":"line","encoding":{"x":{"field":"v","type":"quantitative","title":null,"scale":{"domain":[31,35],"nice":false},"axis":{"values":[32,34]}},"y":{"field":"d","type":"quantitative","title":null,"scale":{"nice":false,"zero":false,"padding":4.5},"axis":{"values":[0,-500,-1000,-1500]}},"color":{"field":"g","sort":"descending"},"size":{"field":"g","type":"ordinal","legend":null},"detail":{"field":"id"},"order":{"field":"d","sort":"descending"}}},
{"title":"Shackleton","transform":[{"filter":"datum.p=='Shackleton'"}],"mark":"line","encoding":{"x":{"field":"v","type":"quantitative","title":null,"scale":{"domain":[31,35],"nice":false},"axis":{"values":[32,34]}},"y":{"field":"d","type":"quantitative","title":null,"scale":{"nice":false,"zero":false,"padding":4.5},"axis":{"values":[0,-200,-400,-600]}},"color":{"field":"g","sort":"descending"},"size":{"field":"g","type":"ordinal","legend":null},"detail":{"field":"id"},"order":{"field":"d","sort":"descending"}}},
{"title":"Tracy Tremenchus","transform":[{"filter":"datum.p=='Tracy Tremenchus'"}],"mark":"line","encoding":{"x":{"field":"v","type":"quantitative","title":null,"scale":{"domain":[31,35],"nice":false},"axis":{"values":[32,34]}},"y":{"field":"d","type":"quantitative","title":null,"scale":{"nice":false,"zero":false,"padding":4.5},"axis":{"values":[0,-200,-400,-600]}},"color":{"field":"g","sort":"descending"},"size":{"field":"g","type":"ordinal","legend":null},"detail":{"field":"id"},"order":{"field":"d","sort":"descending"}}},
{"title":"Conger/Glenzer","transform":[{"filter":"datum.p=='Conger/Glenzer'"}],"mark":"line","encoding":{"x":{"field":"v","type":"quantitative","title":null,"scale":{"domain":[31,35],"nice":false},"axis":{"values":[32,34]}},"y":{"field":"d","type":"quantitative","title":null,"scale":{"nice":false,"zero":false,"padding":4.5},"axis":{"values":[0,-200,-400,-600]}},"color":{"field":"g","sort":"descending"},"size":{"field":"g","type":"ordinal","legend":null},"detail":{"field":"id"},"order":{"field":"d","sort":"descending"}}},
{"title":"Totten","transform":[{"filter":"datum.p=='Totten'"}],"mark":"line","encoding":{"x":{"field":"v","type":"quantitative","title":null,"scale":{"domain":[31,35],"nice":false},"axis":{"values":[32,34]}},"y":{"field":"d","type":"quantitative","title":null,"scale":{"nice":false,"zero":false,"padding":4.5},"axis":{"values":[0,-200,-400,-600]}},"color":{"field":"g","sort":"descending"},"size":{"field":"g","type":"ordinal","legend":null},"detail":{"field":"id"},"order":{"field":"d","sort":"descending"}}},
{"title":"Moscow Univ.","transform":[{"filter":"datum.p=='Moscow Univ.'"}],"mark":"line","encoding":{"x":{"field":"v","type":"quantitative","title":null,"scale":{"domain":[31,35],"nice":false},"axis":{"values":[32,34]}},"y":{"field":"d","type":"quantitative","title":null,"scale":{"nice":false,"zero":false,"padding":4.5},"axis":{"values":[0,-200,-400,-600]}},"color":{"field":"g","sort":"descending"},"size":{"field":"g","type":"ordinal","legend":null},"detail":{"field":"id"},"order":{"field":"d","sort":"descending"}}},
{"title":"Holmes","transform":[{"filter":"datum.p=='Holmes'"}],"mark":"line","encoding":{"x":{"field":"v","type":"quantitative","title":null,"scale":{"domain":[31,35],"nice":false},"axis":{"values":[32,34]}},"y":{"field":"d","type":"quantitative","title":null,"scale":{"nice":false,"zero":false,"padding":4.5},"axis":{"values":[0,-250,-500,-750]}},"color":{"field":"g","sort":"descending"},"size":{"field":"g","type":"ordinal","legend":null},"detail":{"field":"id"},"order":{"field":"d","sort":"descending"}}},
{"title":"Dibble","transform":[{"filter":"datum.p=='Dibble'"}],"mark":"line","encoding":{"x":{"field":"v","type":"quantitative","title":null,"scale":{"domain":[31,35],"nice":false},"axis":{"values":[32,34]}},"y":{"field":"d","type":"quantitative","title":null,"scale":{"nice":false,"zero":false,"padding":4.5},"axis":{"values":[0,-200,-400]}},"color":{"field":"g","sort":"descending"},"size":{"field":"g","type":"ordinal","legend":null},"detail":{"field":"id"},"order":{"field":"d","sort":"descending"}}},
{"title":"Mertz","transform":[{"filter":"datum.p=='Mertz'"}],"mark":"line","encoding":{"x":{"field":"v","type":"quantitative","title":null,"scale":{"domain":[31,35],"nice":false},"axis":{"values":[32,34]}},"y":{"field":"d","type":"quantitative","title":null,"scale":{"nice":false,"zero":false,"padding":4.5},"axis":{"values":[0,-250,-500,-750]}},"color":{"field":"g","sort":"descending"},"size":{"field":"g","type":"ordinal","legend":null},"detail":{"field":"id"},"order":{"field":"d","sort":"descending"}}},
{"title":"Ninnis","transform":[{"filter":"datum.p=='Ninnis'"}],"mark":"line","encoding":{"x":{"field":"v","type":"quantitative","title":null,"scale":{"domain":[31,35],"nice":false},"axis":{"values":[32,34]}},"y":{"field":"d","type":"quantitative","title":null,"scale":{"nice":false,"zero":false,"padding":4.5},"axis":{"values":[0,-250,-500,-750]}},"color":{"field":"g","sort":"descending"},"size":{"field":"g","type":"ordinal","legend":null},"detail":{"field":"id"},"order":{"field":"d","sort":"descending"}}},
{"title":"Cook","transform":[{"filter":"datum.p=='Cook'"}],"mark":"line","encoding":{"x":{"field":"v","type":"quantitative","title":null,"scale":{"domain":[31,35],"nice":false},"axis":{"values":[32,34]}},"y":{"field":"d","type":"quantitative","title":null,"scale":{"nice":false,"zero":false,"padding":4.5},"axis":{"values":[0,-200,-400,-600]}},"color":{"field":"g","sort":"descending"},"size":{"field":"g","type":"ordinal","legend":null},"detail":{"field":"id"},"order":{"field":"d","sort":"descending"}}},
{"title":"Ross","transform":[{"filter":"datum.p=='Ross'"}],"mark":"line","encoding":{"x":{"field":"v","type":"quantitative","title":null,"scale":{"domain":[31,35],"nice":false},"axis":{"values":[32,34]}},"y":{"field":"d","type":"quantitative","title":null,"scale":{"nice":false,"zero":false,"padding":4.5},"axis":{"values":[0,-500]}},"color":{"field":"g","sort":"descending"},"size":{"field":"g","type":"ordinal","legend":null},"detail":{"field":"id"},"order":{"field":"d","sort":"descending"}}},
{"title":"Sulzberger","transform":[{"filter":"datum.p=='Sulzberger'"}],"mark":"line","encoding":{"x":{"field":"v","type":"quantitative","title":null,"scale":{"domain":[31,35],"nice":false},"axis":{"values":[32,34]}},"y":{"field":"d","type":"quantitative","title":null,"scale":{"nice":false,"zero":false,"padding":4.5},"axis":{"values":[0,-500,-1000]}},"color":{"field":"g","sort":"descending"},"size":{"field":"g","type":"ordinal","legend":null},"detail":{"field":"id"},"order":{"field":"d","sort":"descending"}}},
{"title":"Nickerson","transform":[{"filter":"datum.p=='Nickerson'"}],"mark":"line","encoding":{"x":{"field":"v","type":"quantitative","title":null,"scale":{"domain":[31,35],"nice":false},"axis":{"values":[32,34]}},"y":{"field":"d","type":"quantitative","title":null,"scale":{"nice":false,"zero":false,"padding":4.5},"axis":{"values":[0,-250,-500,-750]}},"color":{"field":"g","sort":"descending"},"size":{"field":"g","type":"ordinal","legend":null},"detail":{"field":"id"},"order":{"field":"d","sort":"descending"}}},
{"title":"Getz","transform":[{"filter":"datum.p=='Getz'"}],"mark":"line","encoding":{"x":{"field":"v","type":"quantitative","title":null,"scale":{"domain":[31,35],"nice":false},"axis":{"values":[32,34]}},"y":{"field":"d","type":"quantitative","title":null,"scale":{"nice":false,"zero":false,"padding":4.5},"axis":{"values":[0,-500,-1000]}},"color":{"field":"g","sort":"descending"},"size":{"field":"g","type":"ordinal","legend":null},"detail":{"field":"id"},"order":{"field":"d","sort":"descending"}}},
{"title":"Crosson","transform":[{"filter":"datum.p=='Crosson'"}],"mark":"line","encoding":{"x":{"field":"v","type":"quantitative","title":null,"scale":{"domain":[31,35],"nice":false},"axis":{"values":[32,34]}},"y":{"field":"d","type":"quantitative","title":null,"scale":{"nice":false,"zero":false,"padding":4.5},"axis":{"values":[0,-250,-500,-750]}},"color":{"field":"g","sort":"descending"},"size":{"field":"g","type":"ordinal","legend":null},"detail":{"field":"id"},"order":{"field":"d","sort":"descending"}}},
{"title":"Dotson","transform":[{"filter":"datum.p=='Dotson'"}],"mark":"line","encoding":{"x":{"field":"v","type":"quantitative","title":null,"scale":{"domain":[31,35],"nice":false},"axis":{"values":[32,34]}},"y":{"field":"d","type":"quantitative","title":null,"scale":{"nice":false,"zero":false,"padding":4.5},"axis":{"values":[0,-250,-500,-750]}},"color":{"field":"g","sort":"descending"},"size":{"field":"g","type":"ordinal","legend":null},"detail":{"field":"id"},"order":{"field":"d","sort":"descending"}}},
{"title":"Thwaites","transform":[{"filter":"datum.p=='Thwaites'"}],"mark":"line","encoding":{"x":{"field":"v","type":"quantitative","title":null,"scale":{"domain":[31,35],"nice":false},"axis":{"values":[32,34]}},"y":{"field":"d","type":"quantitative","title":null,"scale":{"nice":false,"zero":false,"padding":4.5},"axis":{"values":[0,-500,-1000]}},"color":{"field":"g","sort":"descending"},"size":{"field":"g","type":"ordinal","legend":null},"detail":{"field":"id"},"order":{"field":"d","sort":"descending"}}},
{"title":"Pine Island","transform":[{"filter":"datum.p=='Pine Island'"}],"mark":"line","encoding":{"x":{"field":"v","type":"quantitative","title":null,"scale":{"domain":[31,35],"nice":false},"axis":{"values":[32,34]}},"y":{"field":"d","type":"quantitative","title":null,"scale":{"nice":false,"zero":false,"padding":4.5},"axis":{"values":[0,-500,-1000]}},"color":{"field":"g","sort":"descending"},"size":{"field":"g","type":"ordinal","legend":null},"detail":{"field":"id"},"order":{"field":"d","sort":"descending"}}},
{"title":"Cosgrove","transform":[{"filter":"datum.p=='Cosgrove'"}],"mark":"line","encoding":{"x":{"field":"v","type":"quantitative","title":null,"scale":{"domain":[31,35],"nice":false},"axis":{"values":[32,34]}},"y":{"field":"d","type":"quantitative","title":null,"scale":{"nice":false,"zero":false,"padding":4.5},"axis":{"values":[0,-250,-500,-750]}},"color":{"field":"g","sort":"descending"},"size":{"field":"g","type":"ordinal","legend":null},"detail":{"field":"id"},"order":{"field":"d","sort":"descending"}}},
{"title":"Abbot","transform":[{"filter":"datum.p=='Abbot'"}],"mark":"line","encoding":{"x":{"field":"v","type":"quantitative","title":null,"scale":{"domain":[31,35],"nice":false},"axis":{"values":[32,34]}},"y":{"field":"d","type":"quantitative","title":null,"scale":{"nice":false,"zero":false,"padding":4.5},"axis":{"values":[0,-200,-400,-600]}},"color":{"field":"g","sort":"descending"},"size":{"field":"g","type":"ordinal","legend":null},"detail":{"field":"id"},"order":{"field":"d","sort":"descending"}}},
{"title":"Venable","transform":[{"filter":"datum.p=='Venable'"}],"mark":"line","encoding":{"x":{"field":"v","type":"quantitative","title":null,"scale":{"domain":[31,35],"nice":false},"axis":{"values":[32,34]}},"y":{"field":"d","type":"quantitative","title":null,"scale":{"nice":false,"zero":false,"padding":4.5},"axis":{"values":[0,-500,-1000]}},"color":{"field":"g","sort":"descending"},"size":{"field":"g","type":"ordinal","legend":null},"detail":{"field":"id"},"order":{"field":"d","sort":"descending"}}},
{"title":"Stange","transform":[{"filter":"datum.p=='Stange'"}],"mark":"line","encoding":{"x":{"field":"v","type":"quantitative","title":null,"scale":{"domain":[31,35],"nice":false},"axis":{"values":[32,34]}},"y":{"field":"d","type":"quantitative","title":null,"scale":{"nice":false,"zero":false,"padding":4.5},"axis":{"values":[0,-250,-500,-750]}},"color":{"field":"g","sort":"descending"},"size":{"field":"g","type":"ordinal","legend":null},"detail":{"field":"id"},"order":{"field":"d","sort":"descending"}}},
{"title":"Bach","transform":[{"filter":"datum.p=='Bach'"}],"mark":"line","encoding":{"x":{"field":"v","type":"quantitative","title":null,"scale":{"domain":[31,35],"nice":false},"axis":{"values":[32,34]}},"y":{"field":"d","type":"quantitative","title":null,"scale":{"nice":false,"zero":false,"padding":4.5},"axis":{"values":[0,-200,-400,-600]}},"color":{"field":"g","sort":"descending"},"size":{"field":"g","type":"ordinal","legend":null},"detail":{"field":"id"},"order":{"field":"d","sort":"descending"}}},
{"title":"Wilkins","transform":[{"filter":"datum.p=='Wilkins'"}],"mark":"line","encoding":{"x":{"field":"v","type":"quantitative","title":null,"scale":{"domain":[31,35],"nice":false},"axis":{"values":[32,34]}},"y":{"field":"d","type":"quantitative","title":null,"scale":{"nice":false,"zero":false,"padding":4.5},"axis":{"values":[0,-500]}},"color":{"field":"g","sort":"descending"},"size":{"field":"g","type":"ordinal","legend":null},"detail":{"field":"id"},"order":{"field":"d","sort":"descending"}}},
{"title":"George VI","transform":[{"filter":"datum.p=='George VI'"}],"mark":"line","encoding":{"x":{"field":"v","type":"quantitative","title":null,"scale":{"domain":[31,35],"nice":false},"axis":{"values":[32,34]}},"y":{"field":"d","type":"quantitative","title":null,"scale":{"nice":false,"zero":false,"padding":4.5},"axis":{"values":[0,-250,-500,-750]}},"color":{"field":"g","sort":"descending"},"size":{"field":"g","type":"ordinal","legend":null},"detail":{"field":"id"},"order":{"field":"d","sort":"descending"}}},
{"title":"Larsen B","transform":[{"filter":"datum.p=='Larsen B'"}],"mark":"line","encoding":{"x":{"field":"v","type":"quantitative","title":null,"scale":{"domain":[31,35],"nice":false},"axis":{"values":[32,34]}},"y":{"field":"d","type":"quantitative","title":null,"scale":{"nice":false,"zero":false,"padding":4.5},"axis":{"values":[0,-200]}},"color":{"field":"g","sort":"descending"},"size":{"field":"g","type":"ordinal","legend":null},"detail":{"field":"id"},"order":{"field":"d","sort":"descending"}}},
{"title":"Larsen C","transform":[{"filter":"datum.p=='Larsen C'"}],"mark":"line","encoding":{"x":{"field":"v","type":"quantitative","title":null,"scale":{"domain":[31,35],"nice":false},"axis":{"values":[32,34]}},"y":{"field":"d","type":"quantitative","title":null,"scale":{"nice":false,"zero":false,"padding":4.5},"axis":{"values":[0,-200,-400,-600]}},"color":{"field":"g","sort":"descending"},"size":{"field":"g","type":"ordinal","legend":null},"detail":{"field":"id"},"order":{"field":"d","sort":"descending"}}},
{"title":"Larsen D","transform":[{"filter":"datum.p=='Larsen D'"}],"mark":"line","encoding":{"x":{"field":"v","type":"quantitative","title":null,"scale":{"domain":[31,35],"nice":false},"axis":{"values":[32,34]}},"y":{"field":"d","type":"quantitative","title":null,"scale":{"nice":false,"zero":false,"padding":4.5},"axis":{"values":[0,-200,-400]}},"color":{"field":"g","sort":"descending"},"size":{"field":"g","type":"ordinal","legend":null},"detail":{"field":"id"},"order":{"field":"d","sort":"descending"}}}
  ]
 }]
}]
}
